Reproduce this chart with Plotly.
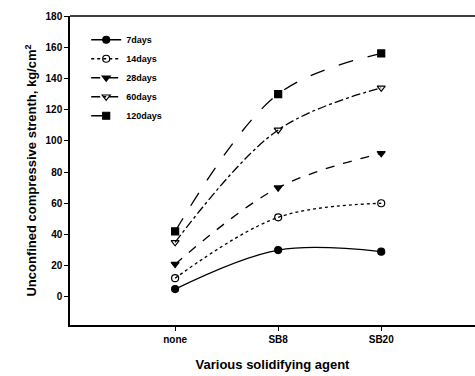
import plotly.graph_objects as go

categories = ["none", "SB8", "SB20"]
series_names = ["7days", "14days", "28days", "60days", "120days"]
v7 = [5, 30, 29]
v14 = [12, 51, 60]
v28 = [21, 70, 92]
v60 = [35, 107, 134]
v120 = [42, 130, 156]
y_ticks = [0, 20, 40, 60, 80, 100, 120, 140, 160, 180]

values = [v7, v14, v28, v60, v120]
dashes = ["solid", "dot", "dash", "dashdot", "longdash"]
symbols = ["circle", "circle-open", "triangle-down", "triangle-down-open", "square"]

xpos = list(range(len(categories)))
fig = go.Figure()
for name, vals, d, s in zip(series_names, values, dashes, symbols):
    fig.add_trace(go.Scatter(
        x=xpos, y=vals, name=name, mode="lines+markers",
        line=dict(color="black", width=1.3, dash=d, shape="spline"),
        marker=dict(symbol=s, size=7, color="black", line=dict(color="black", width=1.2)),
    ))

fig.update_layout(
    width=475, height=376,
    margin=dict(l=70, r=0, t=16, b=51),
    paper_bgcolor="white", plot_bgcolor="white",
    font=dict(family="Liberation Sans, Arial, sans-serif", size=10, color="black"),
    showlegend=True,
    legend=dict(x=0.04, y=0.97, xanchor="left", yanchor="top",
                bgcolor="rgba(0,0,0,0)", tracegroupgap=0,
                font=dict(size=9, family="Liberation Sans", weight="bold"), itemwidth=30),
    xaxis=dict(
        range=[-1.02, 2.91], tickmode="array", tickvals=xpos, ticktext=categories,
        showline=True, linecolor="black", linewidth=1.5, mirror=False,
        ticks="outside", ticklen=4, tickcolor="black", showgrid=False, zeroline=False,
        tickfont=dict(size=10, family="Liberation Sans", weight="bold"),
        title=dict(text="<b>Various solidifying agent</b>", font=dict(size=13), standoff=16),
    ),
    yaxis=dict(
        range=[-18, 180], tickmode="array", tickvals=y_ticks,
        showline=True, linecolor="black", linewidth=1.5,
        ticks="outside", ticklen=4, tickcolor="black", showgrid=False, zeroline=False,
        tickfont=dict(size=10, family="Liberation Sans", weight="bold"),
        title=dict(text="<b>Unconfined compressive strenth, kg/cm<sup>2</sup></b>", font=dict(size=13), standoff=6),
    ),
)
fig.add_shape(type="line", xref="paper", yref="paper", x0=0, x1=1, y0=1, y1=1,
              line=dict(color="black", width=1.5))
fig.write_html("out.html", config={"displayModeBar": False},
               post_script="document.body.style.margin='0';document.body.style.overflow='hidden';document.documentElement.style.overflow='hidden';")
